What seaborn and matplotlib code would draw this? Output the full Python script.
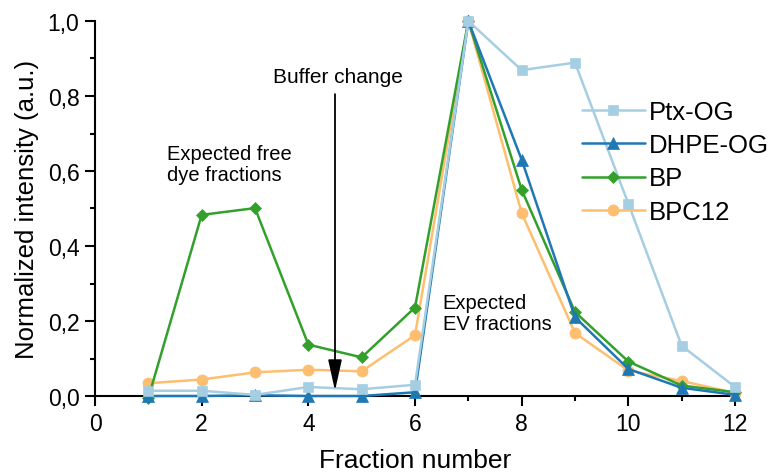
import matplotlib
matplotlib.use("Agg")
import matplotlib.pyplot as plt
import seaborn as sns
import pandas as pd
import numpy as np

# ---- data ----
fractions = [1, 2, 3, 4, 5, 6, 7, 8, 9, 10, 11, 12]
ptx_og = [0.014, 0.014, 0.003, 0.024, 0.018, 0.03, 1.0, 0.869, 0.889, 0.513, 0.134, 0.024]
dhpe_og = [0.0, 0.0, 0.002, 0.0, 0.0, 0.01, 1.0, 0.63, 0.21, 0.072, 0.022, 0.003]
bp = [-0.005, 0.483, 0.501, 0.137, 0.103, 0.236, 1.0, 0.55, 0.224, 0.092, 0.028, 0.01]
bpc12 = [0.034, 0.044, 0.063, 0.07, 0.066, 0.162, 1.0, 0.488, 0.168, 0.068, 0.04, 0.008]
series_names = ["Ptx-OG", "DHPE-OG", "BP", "BPC12"]
x_ticks = [0, 2, 4, 6, 8, 10, 12]
y_ticks = [0.0, 0.2, 0.4, 0.6, 0.8, 1.0]
y_tick_labels = ["0,0", "0,2", "0,4", "0,6", "0,8", "1,0"]

sns.set_style("ticks")
plt.rcParams["font.family"] = ["Liberation Sans", "DejaVu Sans"]
for k in ["text.color", "axes.labelcolor", "xtick.color", "ytick.color", "axes.edgecolor"]:
    plt.rcParams[k] = "black"

pal = sns.color_palette("Paired")
colors = {"Ptx-OG": pal[0], "DHPE-OG": pal[1], "BP": pal[3], "BPC12": pal[6]}
markers = {"Ptx-OG": "s", "DHPE-OG": "^", "BP": "D", "BPC12": "o"}
msizes = {"Ptx-OG": 7.4, "DHPE-OG": 8.8, "BP": 6.4, "BPC12": 8.0}
zorders = {"Ptx-OG": 6, "DHPE-OG": 5, "BP": 4, "BPC12": 3}

df = pd.DataFrame({
    "Fraction": fractions * 4,
    "Intensity": ptx_og + dhpe_og + bp + bpc12,
    "Series": sum([[n] * len(fractions) for n in series_names], []),
})

fig = plt.figure(figsize=(7.78, 4.77), dpi=100)
ax = fig.add_axes([95 / 778, 1 - 397 / 477, 640 / 778, 375 / 477])

for name in series_names:
    sub = df[df["Series"] == name]
    sns.lineplot(data=sub, x="Fraction", y="Intensity", ax=ax, color=colors[name],
                 marker=markers[name], markersize=msizes[name], linewidth=1.8,
                 markeredgecolor=colors[name], markeredgewidth=0.5,
                 label=name, clip_on=False, zorder=zorders[name], legend=False)

ax.set_xlim(0, 12)
ax.set_ylim(0, 1.0)
ax.set_xticks(x_ticks)
ax.set_xticks(np.arange(1, 12, 2), minor=True)
ax.set_yticks(y_ticks)
ax.set_yticklabels(y_tick_labels)
ax.set_yticks(np.arange(0.1, 1.0, 0.2), minor=True)
ax.tick_params(axis="both", which="major", length=7.2, width=1.5, labelsize=16.5, direction="out", pad=4)
ax.tick_params(axis="both", which="minor", length=3.6, width=1.5, direction="out")
for s in ["top", "right"]:
    ax.spines[s].set_visible(False)
for s in ["left", "bottom"]:
    ax.spines[s].set_linewidth(1.5)

ax.set_xlabel("Fraction number", fontsize=19, labelpad=10)
ax.set_ylabel("Normalized intensity (a.u.)", fontsize=18.5, labelpad=6)

# annotations
ax.text(1.35, 0.672, "Expected free\ndye fractions", fontsize=14.5, ha="left", va="top", linespacing=1.12)
ax.text(6.52, 0.275, "Expected\nEV fractions", fontsize=14.5, ha="left", va="top", linespacing=1.12)
ax.text(4.56, 0.878, "Buffer change", fontsize=15, ha="center", va="top")
ax.annotate("", xy=(4.5, 0.014), xytext=(4.5, 0.805),
            arrowprops=dict(arrowstyle="-|>,head_length=1.9,head_width=0.42", color="black", lw=1.3,
                            shrinkA=0, shrinkB=0), zorder=10)

handles, labels = ax.get_legend_handles_labels()
leg = fig.legend(handles, labels, loc="upper left", bbox_to_anchor=(582 / 778, 1 - 101 / 477),
                 bbox_transform=fig.transFigure, frameon=False, fontsize=18.5,
                 handlelength=2.45, handletextpad=0.15, labelspacing=0.36,
                 borderpad=0, borderaxespad=0)

fig.savefig("out.png", dpi=100)
